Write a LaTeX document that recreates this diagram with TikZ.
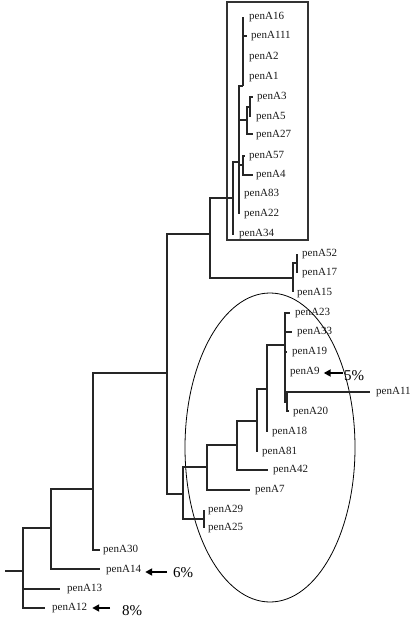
\documentclass[tikz,border=0pt]{standalone}
\usepackage{fontspec}
\setmainfont{Liberation Serif}
\usetikzlibrary{arrows.meta,shapes.geometric}
\begin{document}
\begin{tikzpicture}[x=1pt,y=-1pt,
  br/.style={draw=black!85, line width=1.2pt},
  lbl/.style={anchor=west, inner sep=0pt, font=\fontsize{11}{11}\selectfont, text=black!90},
  pct/.style={anchor=west, inner sep=0pt, font=\fontsize{15}{15}\selectfont},
  arr/.style={-{Triangle[length=7pt,width=7pt]}, line width=2.6pt},
  frame/.style={draw=black!80, line width=1.1pt, inner sep=0pt}]
\useasboundingbox (0,0) rectangle (416,619);
% frames
\node[frame, minimum width=81pt, minimum height=238pt] (box) at (267.5,121) {};
\node[draw, ellipse, line width=0.8pt, inner sep=0pt, minimum width=170pt, minimum height=309pt] (ell) at (270,447.5) {};
% leaf tips
\coordinate (tA16) at (243,17);
\coordinate (tA111) at (247,36);
\coordinate (tA2) at (243,57);
\coordinate (tA1) at (243,77);
\coordinate (tA3) at (253,97);
\coordinate (tA5) at (250,117);
\coordinate (tA27) at (253,134);
\coordinate (tA57) at (245,156);
\coordinate (tA4) at (253,175);
\coordinate (tA83) at (239,195);
\coordinate (tA22) at (239,214);
\coordinate (tA34) at (234,234);
\coordinate (tA52) at (297,254);
\coordinate (tA17) at (297,273);
\coordinate (tA15) at (293,292);
\coordinate (tA23) at (290,313);
\coordinate (tA33) at (292,332);
\coordinate (tA19) at (287,352);
\coordinate (tA9) at (285,373);
\coordinate (tA11) at (370,392);
\coordinate (tA20) at (289,411);
\coordinate (tA18) at (267,432);
\coordinate (tA81) at (257,452);
\coordinate (tA42) at (268,470);
\coordinate (tA7) at (250,490);
\coordinate (tA29) at (204,510);
\coordinate (tA25) at (204,528);
\coordinate (tA30) at (100,550);
\coordinate (tA14) at (100,569);
\coordinate (tA13) at (60,589);
\coordinate (tA12) at (45,608);
% labels
\node[lbl] (A16) at (249,17) {penA16};
\node[lbl] (A111) at (251,36) {penA111};
\node[lbl] (A2) at (249,57) {penA2};
\node[lbl] (A1) at (249,77) {penA1};
\node[lbl] (A3) at (257,97) {penA3};
\node[lbl] (A5) at (256,117) {penA5};
\node[lbl] (A27) at (256,135) {penA27};
\node[lbl] (A57) at (249,156) {penA57};
\node[lbl] (A4) at (256,175) {penA4};
\node[lbl] (A83) at (244,194) {penA83};
\node[lbl] (A22) at (244,214) {penA22};
\node[lbl] (A34) at (239,234) {penA34};
\node[lbl] (A52) at (302,254) {penA52};
\node[lbl] (A17) at (302,273) {penA17};
\node[lbl] (A15) at (297,293) {penA15};
\node[lbl] (A23) at (295,313) {penA23};
\node[lbl] (A33) at (297,332) {penA33};
\node[lbl] (A19) at (292,352) {penA19};
\node[lbl] (A9) at (290,372) {penA9};
\node[lbl] (A11) at (376,392) {penA11};
\node[lbl] (A20) at (293,412) {penA20};
\node[lbl] (A18) at (272,432) {penA18};
\node[lbl] (A81) at (262,452) {penA81};
\node[lbl] (A42) at (273,470) {penA42};
\node[lbl] (A7) at (255,490) {penA7};
\node[lbl] (A29) at (208,510) {penA29};
\node[lbl] (A25) at (208,528) {penA25};
\node[lbl] (A30) at (103,550) {penA30};
\node[lbl] (A14) at (106,570) {penA14};
\node[lbl] (A13) at (67,589) {penA13};
\node[lbl] (A12) at (52,608) {penA12};
% internal nodes
\coordinate (r0) at (5,571);
\coordinate (M) at (23,571);
\coordinate (L) at (51,528);
\coordinate (K) at (93,489);
\coordinate (I) at (167,373);
\coordinate (G) at (210,234);
\coordinate (C) at (233,198);
\coordinate (D) at (239,162);
\coordinate (A) at (243,86);
\coordinate (B) at (247,120);
\coordinate (B1) at (250,107);
\coordinate (F) at (243,165);
\coordinate (H) at (293,278);
\coordinate (H1) at (297,263);
\coordinate (J) at (183,494);
\coordinate (O) at (204,519);
\coordinate (N) at (207,467);
\coordinate (P) at (237,445);
\coordinate (Q) at (257,421);
\coordinate (R) at (267,389);
\coordinate (S) at (285,345);
\coordinate (T) at (287,402);
% branches
\draw[br] (r0) -- (M);
\draw[br] (M) |- (L);  \draw[br] (M) |- (tA13); \draw[br] (M) |- (tA12);
\draw[br] (L) |- (K);  \draw[br] (L) |- (tA14);
\draw[br] (K) |- (I);  \draw[br] (K) |- (tA30);
\draw[br] (I) |- (G);  \draw[br] (I) |- (J);
\draw[br] (G) |- (C);  \draw[br] (G) |- (H);
\draw[br] (C) |- (D);  \draw[br] (C) |- (tA34);
\draw[br] (D) |- (A);  \draw[br] (D) |- (B); \draw[br] (D) |- (F);
\draw[br] (D) |- (tA83); \draw[br] (D) |- (tA22);
\draw[br] (A) |- (tA16); \draw[br] (A) |- (tA111); \draw[br] (A) |- (tA2); \draw[br] (A) |- (tA1);
\draw[br] (B) |- (B1); \draw[br] (B) |- (tA27);
\draw[br] (B1) |- (tA3); \draw[br] (B1) |- (tA5);
\draw[br] (F) |- (tA57); \draw[br] (F) |- (tA4);
\draw[br] (H) |- (H1); \draw[br] (H) |- (tA15);
\draw[br] (H1) |- (tA52); \draw[br] (H1) |- (tA17);
\draw[br] (J) |- (N); \draw[br] (J) |- (O);
\draw[br] (O) |- (tA29); \draw[br] (O) |- (tA25);
\draw[br] (N) |- (P); \draw[br] (N) |- (tA7);
\draw[br] (P) |- (Q); \draw[br] (P) |- (tA42);
\draw[br] (Q) |- (R); \draw[br] (Q) |- (tA81);
\draw[br] (R) |- (S); \draw[br] (R) |- (tA18);
\draw[br] (S) |- (tA23); \draw[br] (S) |- (tA33); \draw[br] (S) |- (tA19);
\draw[br] (S) |- (tA9); \draw[br] (S) |- (T);
\draw[br] (T) |- (tA11); \draw[br] (T) |- (tA20);
% percentages
\node[pct] (p5) at (344,376) {5\%};
\node[pct] (p6) at (173,573) {6\%};
\node[pct] (p8) at (122,611) {8\%};
\coordinate (a5) at (343,373);
\coordinate (a6) at (167,572);
\coordinate (a8) at (110,608);
\draw[arr] (a5) -- ([xshift=4pt]A9.east |- a5);
\draw[arr] (a6) -- ([xshift=4pt]A14.east |- a6);
\draw[arr] (a8) -- ([xshift=5pt]A12.east |- a8);
\end{tikzpicture}
\end{document}
